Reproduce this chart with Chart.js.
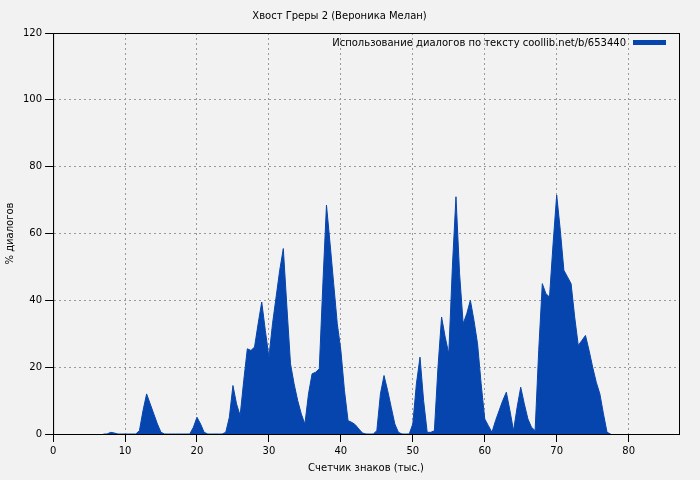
<!DOCTYPE html><html><head><meta charset="utf-8">
<script src="https://cdn.jsdelivr.net/npm/chart.js@4"></script>
<style>html,body{margin:0;background:#f2f2f2}</style></head><body><canvas id="c" width="700" height="480" style="width:700px;height:480px"></canvas>
<script>
const startK = 7, stepK = 0.5;
const values = [0,0,0.5,0.3,0,0,0,0,0,0,1,7,12,9,6,3,0.5,0,0,0,0,0,0,0,0,2,5,3,0.5,0,0,0,0,0,0.5,5,14.5,9,5.5,16,25.5,25,26,33,39.5,31,23,33,41,49,55.5,38,21,15,10,6,3,12,18,18.5,19.5,45,68.5,57,45,33,25,13,4,3.5,2.8,1.5,0.3,0,0,0,1,12,17.5,13,8,3,0.5,0,0,0,3,15,23,10,0.5,0.5,1,20,35,29,24,50,71,48,33,36,40,34,27,15,4.5,2.5,0.5,4,7,10,12.5,7,1,8,14,9,4.5,2,1,25,45,42,41,57,71.5,61,49,47,45,35,26.5,28,29.5,25,20,15.5,12,6,0.5,0];
const seriesLabel = 'Использование диалогов по тексту coollib.net/b/653440';
const pts = values.map((v,i)=>({x:startK+i*stepK,y:v}));
const F = {family:'DejaVu Sans',size:10};
new Chart(document.getElementById('c'),{type:'line',
data:{datasets:[{label:seriesLabel,data:pts,fill:'origin',backgroundColor:'#0645ad',borderColor:'#0645ad',borderWidth:1,pointRadius:0,tension:0}]},
options:{responsive:false,animation:false,
layout:{padding:{left:0,right:21,top:0,bottom:2}},
plugins:{title:{display:true,text:'Хвост Греры 2 (Вероника Мелан)',color:'#000',font:{family:'DejaVu Sans',size:10,weight:'normal'},padding:{top:10,bottom:11}},
legend:{display:false},tooltip:{enabled:false}},
scales:{x:{type:'linear',min:0,max:87,afterBuildTicks(s){s.ticks=s.ticks.filter(t=>t.value%10===0);},ticks:{stepSize:10,color:'#000',font:F},grid:{color:'#999',tickColor:'#000'},border:{dash:[2,3],color:'#000'},title:{display:true,text:'Счетчик знаков (тыс.)',color:'#000',font:F,padding:{top:2}}},
y:{min:0,max:120,ticks:{stepSize:20,color:'#000',font:F},grid:{color:'#999',tickColor:'#000'},border:{dash:[2,3],color:'#000'},title:{display:true,text:'% диалогов',color:'#000',font:F}}}},
plugins:[{id:'frame',afterDraw(ch){const a=ch.chartArea,c=ch.ctx;c.save();c.strokeStyle='#000';c.lineWidth=1;c.strokeRect(a.left+0.5,a.top+0.5,a.right-a.left,a.bottom-a.top);
c.font='10px DejaVu Sans';c.fillStyle='#000';c.textAlign='right';c.textBaseline='middle';const y=a.top+10;c.fillText(seriesLabel,a.right-53,y);c.fillStyle='#0645ad';c.fillRect(a.right-46,y-3,33,5);c.restore();}}]
});
</script></body></html>
